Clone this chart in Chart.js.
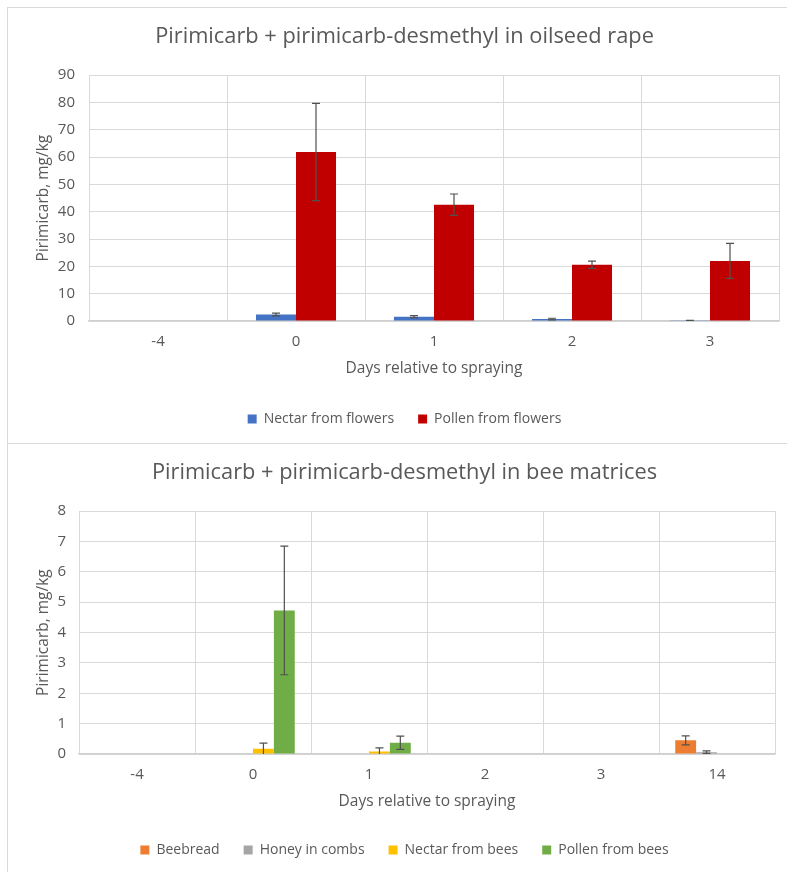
<!DOCTYPE html>
<html>
<head>
<meta charset="utf-8">
<script src="https://cdn.jsdelivr.net/npm/chart.js@4.4.0/dist/chart.umd.min.js"></script>
<style>
  body { margin: 0; background: #fff; }
  .panel { position: absolute; left: 7px; width: 780px; border-left: 1px solid #d9d9d9; border-top: 1px solid #d9d9d9; }
  #p1 { top: 7px; height: 435px; }
  #p2 { top: 443px; height: 428px; }
  canvas { display: block; }
</style>
</head>
<body>
<div class="panel" id="p1"><canvas id="rapeChart" width="779" height="435"></canvas></div>
<div class="panel" id="p2"><canvas id="beeChart" width="779" height="428"></canvas></div>
<script>
// --- Data: oilseed rape ---
const rapeDays = ['-4', '0', '1', '2', '3'];
const nectarFlowers = [0, 2.4, 1.6, 0.7, 0.05];
const nectarFlowersErr = [0, 0.5, 0.4, 0.3, 0.15];
const pollenFlowers = [0, 61.9, 42.6, 20.6, 22.0];
const pollenFlowersErr = [0, 17.8, 3.9, 1.3, 6.4];

// --- Data: bee matrices ---
const beeDays = ['-4', '0', '1', '2', '3', '14'];
const beebread = [0, 0, 0, 0, 0, 0.45];
const beebreadErr = [0, 0, 0, 0, 0, 0.15];
const honeyCombs = [0, 0, 0, 0, 0, 0.06];
const honeyCombsErr = [0, 0, 0, 0, 0, 0.04];
const nectarBees = [0, 0.17, 0.08, 0, 0, 0];
const nectarBeesErr = [0, 0.19, 0.12, 0, 0, 0];
const pollenBees = [0, 4.73, 0.37, 0, 0, 0];
const pollenBeesErr = [0, 2.12, 0.22, 0, 0, 0];

const TEXT = '#595959';
const GRID = '#d9d9d9';
const FONT = 'Open Sans';

// draws the +/- error whiskers on top of each bar
const errorBars = {
  id: 'errorBars',
  afterDatasetsDraw(chart) {
    const ctx = chart.ctx;
    const yScale = chart.scales.y;
    ctx.save();
    ctx.strokeStyle = '#505050';
    ctx.lineWidth = 1.2;
    chart.data.datasets.forEach((ds, di) => {
      const meta = chart.getDatasetMeta(di);
      ds.errors.forEach((err, i) => {
        if (!err) return;
        const x = meta.data[i].x;
        const v = ds.data[i];
        const yTop = yScale.getPixelForValue(v + err);
        const yBot = yScale.getPixelForValue(Math.max(v - err, 0));
        ctx.beginPath();
        ctx.moveTo(x, yTop); ctx.lineTo(x, yBot);
        ctx.moveTo(x - 4, yTop); ctx.lineTo(x + 4, yTop);
        if (v - err > 0) { ctx.moveTo(x - 4, yBot); ctx.lineTo(x + 4, yBot); }
        ctx.stroke();
      });
    });
    ctx.restore();
  }
};

function makeChart(id, cfg) {
  return new Chart(document.getElementById(id), {
    type: 'bar',
    data: { labels: cfg.labels, datasets: cfg.datasets },
    plugins: [errorBars],
    options: {
      responsive: false,
      animation: false,
      layout: { padding: { left: cfg.padLeft, right: cfg.padRight, top: 0, bottom: cfg.padBottom } },
      datasets: { bar: { categoryPercentage: cfg.catPct, barPercentage: 1 } },
      plugins: {
        title: {
          display: true, text: cfg.title, color: TEXT,
          font: { family: FONT, size: 21.8, weight: 'normal' },
          padding: { top: 16, bottom: 25 }
        },
        legend: {
          position: 'bottom',
          labels: { color: TEXT, boxWidth: 9, boxHeight: 9, padding: 24, font: { family: FONT, size: 14 } }
        },
        tooltip: { enabled: false }
      },
      scales: {
        x: {
          grid: { color: GRID, drawTicks: false, offset: true },
          border: { color: '#cfcfcf', width: 1.5 },
          ticks: { color: TEXT, padding: 12, font: { family: FONT, size: 15 } },
          title: {
            display: true, text: 'Days relative to spraying', color: TEXT,
            font: { family: FONT, size: 15.5 }, padding: { top: 0, bottom: cfg.xTitlePad }
          },
          afterFit: s => { s.height = cfg.xHeight; }
        },
        y: {
          min: 0, max: cfg.yMax,
          grid: { color: GRID, drawTicks: false },
          border: { color: GRID },
          ticks: { stepSize: cfg.yStep, color: TEXT, padding: cfg.yTickPad, font: { family: FONT, size: 15 } },
          title: {
            display: true, text: 'Pirimicarb, mg/kg', color: TEXT,
            font: { family: FONT, size: 15.5 }, padding: { top: cfg.yTitlePad, bottom: 0 }
          },
          afterFit: s => { s.width = cfg.yWidth; }
        }
      }
    }
  });
}

makeChart('rapeChart', {
  title: 'Pirimicarb + pirimicarb-desmethyl in oilseed rape',
  labels: rapeDays,
  datasets: [
    { label: 'Nectar from flowers', data: nectarFlowers, errors: nectarFlowersErr, backgroundColor: '#4472c4' },
    { label: 'Pollen from flowers', data: pollenFlowers, errors: pollenFlowersErr, backgroundColor: '#c00000' }
  ],
  catPct: 0.58, yMax: 90, yStep: 10, padLeft: 22, yWidth: 59, yTickPad: 14, yTitlePad: 4,
  xHeight: 67, xTitlePad: 10.6, padRight: 8, padBottom: 7
});

makeChart('beeChart', {
  title: 'Pirimicarb + pirimicarb-desmethyl in bee matrices',
  labels: beeDays,
  datasets: [
    { label: 'Beebread', data: beebread, errors: beebreadErr, backgroundColor: '#ed7d31' },
    { label: 'Honey in combs', data: honeyCombs, errors: honeyCombsErr, backgroundColor: '#a5a5a5' },
    { label: 'Nectar from bees', data: nectarBees, errors: nectarBeesErr, backgroundColor: '#ffc000' },
    { label: 'Pollen from bees', data: pollenBees, errors: pollenBeesErr, backgroundColor: '#70ad47' }
  ],
  catPct: 0.72, yMax: 8, yStep: 1, padLeft: 26, yWidth: 45, yTickPad: 13, yTitlePad: 0,
  xHeight: 65, xTitlePad: 8.6, padRight: 12, padBottom: 5
});
</script>
</body>
</html>
